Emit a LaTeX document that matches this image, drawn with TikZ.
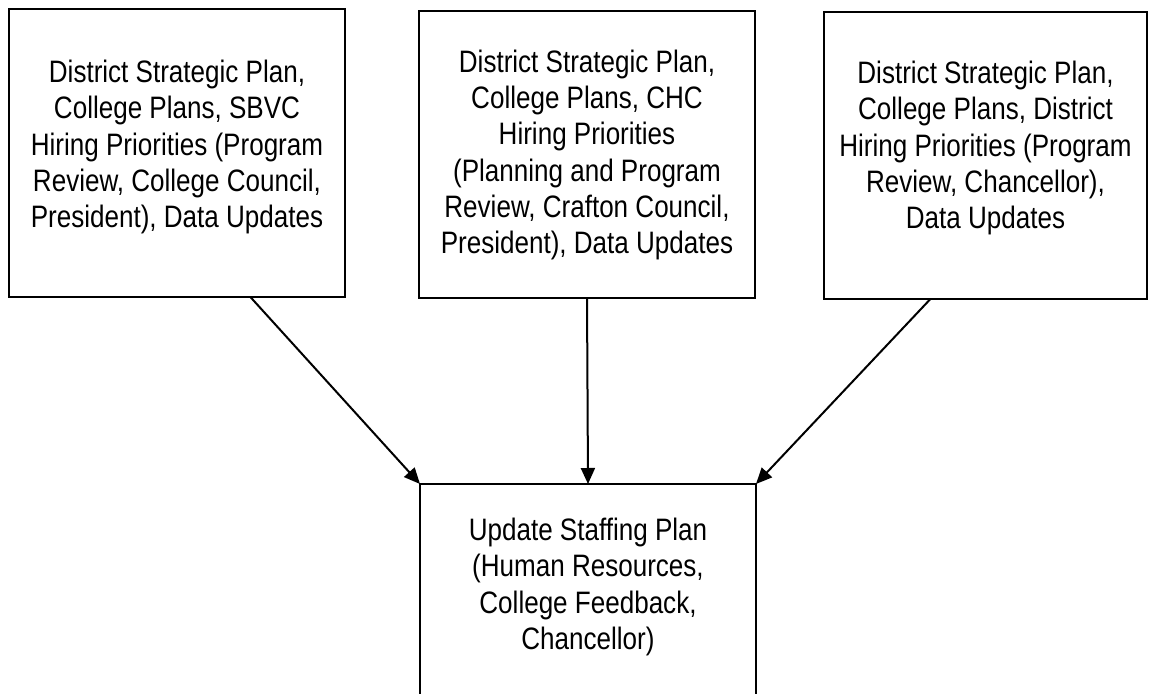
\documentclass[tikz,border=0pt]{standalone}
\usepackage{fontspec}
\setmainfont{Liberation Sans}[FakeStretch=0.84]
\usetikzlibrary{arrows.meta}

\begin{document}
\begin{tikzpicture}[x=0.5pt, y=-0.5pt,
      box/.style={draw, line width=1pt, inner sep=0pt, outer sep=0pt},
      boxtext/.style={align=center, inner sep=0pt, font=\fontsize{15.5}{18.1}\selectfont},
      arrow/.style={-{Triangle[length=8pt, width=7pt]}, line width=1pt}
    ]
    \clip (0,0) rectangle (1150,694);
    % planning inputs
    \node[box, minimum width=168pt, minimum height=144pt] (sbvc) at (177,153) {};
    \node[box, minimum width=168pt, minimum height=143.5pt] (chc) at (587,154.5) {};
    \node[box, minimum width=161.5pt, minimum height=143.5pt] (district) at (985.5,155.5) {};
    \node[boxtext] (sbvc-text) at (177,147) {District Strategic Plan,\\College Plans, SBVC\\Hiring Priorities (Program\\Review, College Council,\\President), Data Updates};
    \node[boxtext] (chc-text) at (587,155) {District Strategic Plan,\\College Plans, CHC\\Hiring Priorities\\(Planning and Program\\Review, Crafton Council,\\President), Data Updates};
    \node[boxtext] (district-text) at (985.5,148) {District Strategic Plan,\\College Plans, District\\Hiring Priorities (Program\\Review, Chancellor),\\Data Updates};
    % staffing plan
    \node[box, minimum width=168pt, minimum height=118pt] (staffing) at (588,602) {};
    \node[boxtext] (staffing-text) at (588,587) {Update Staffing Plan\\(Human Resources,\\College Feedback,\\Chancellor)};
    \draw[arrow] (sbvc.-63) -- (staffing.north west);
    \draw[arrow] (chc.south) -- (staffing.north);
    \draw[arrow] (district.-111) -- (staffing.north east);
  \end{tikzpicture}
\end{document}
